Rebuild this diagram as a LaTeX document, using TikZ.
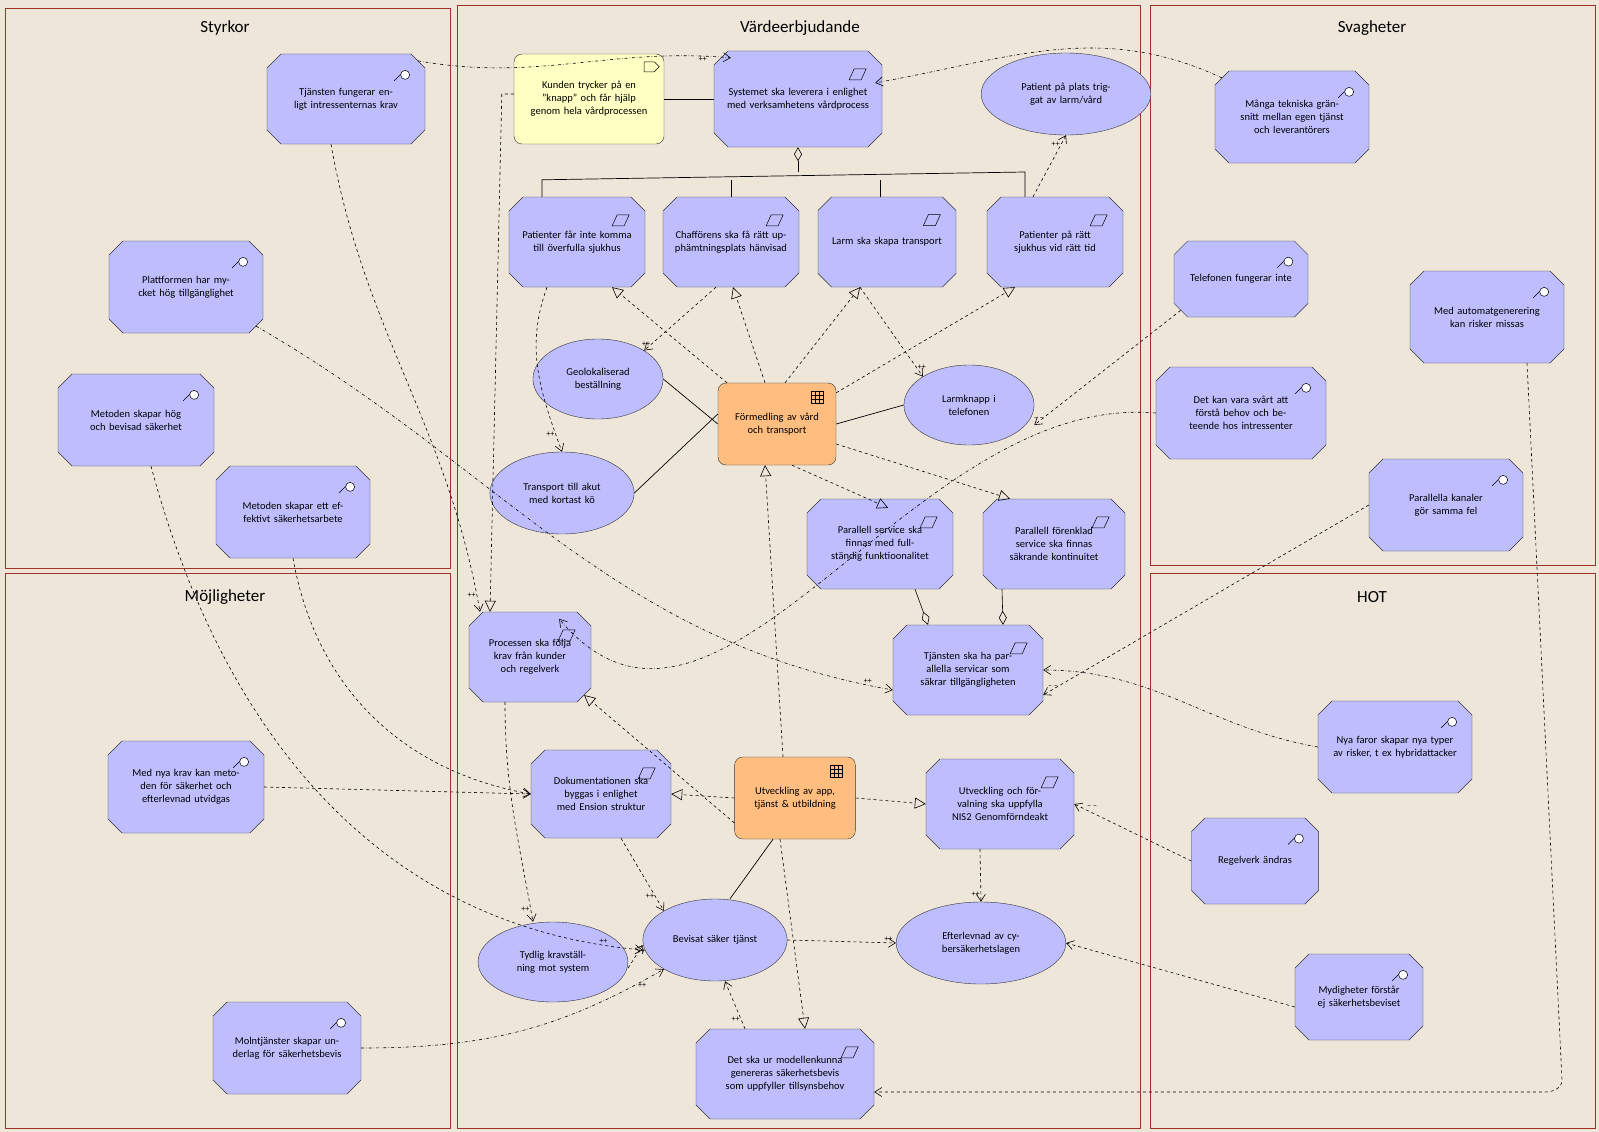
\documentclass[tikz,border=0pt]{standalone}
\usepackage{fontspec}
\setmainfont{Carlito}
\usetikzlibrary{shapes.misc,shapes.geometric,arrows.meta}
\definecolor{bg}{HTML}{EFE6DA}
\definecolor{frame}{HTML}{A0302A}
\definecolor{bb}{HTML}{BEBEFF}
\definecolor{ob}{HTML}{FFBE80}
\definecolor{yb}{HTML}{FFFFC4}
\tikzset{
 box/.style={chamfered rectangle,chamfered rectangle xsep=7pt,chamfered rectangle ysep=7pt,draw=black!80,fill=bb,align=center,inner sep=2pt,font=\fontsize{10.5}{13}\selectfont},
 ell/.style={ellipse,draw=black!80,fill=bb,align=center,inner sep=1pt,font=\fontsize{10.5}{13}\selectfont},
 orb/.style={rectangle,rounded corners=8pt,draw=black!80,fill=ob,align=center,font=\fontsize{10.5}{13}\selectfont},
 fr/.style={draw=frame,line width=0.9pt},
 ttl/.style={font=\fontsize{17}{20}\selectfont},
 dsh/.style={dashed,line width=0.6pt,-{Straight Barb[length=7pt,width=9pt]}},
 dd/.style={dash dot,line width=0.6pt,-{Straight Barb[length=7pt,width=9pt]}},
 rl/.style={dashed,line width=0.6pt,-{Triangle[open,length=11pt,width=11pt]}},
 ag/.style={line width=0.6pt,{Diamond[open,length=14pt,width=8pt]}-},
 sl/.style={line width=0.7pt},
 lb/.style={font=\fontsize{8}{9}\selectfont,inner sep=1pt}
}
\newcommand\aicon[1]{\draw[line width=0.5pt] ([xshift=-24pt,yshift=-20pt]#1.north east) -- ++(7,-7); \draw[line width=0.5pt,fill=white] ([xshift=-13pt,yshift=-14pt]#1.north east) circle (4.5pt);}
\newcommand\gicon[1]{\draw[line width=0.5pt] ([xshift=-26pt,yshift=-22pt]#1.north east) -- ++(12,0) -- ++(5,-11) -- ++(-12,0) -- cycle;}
\newcommand\oicon[1]{\draw[line width=0.5pt] ([xshift=-25pt,yshift=-8pt]#1.north east) rectangle ++(12,12) ([xshift=-21pt,yshift=-8pt]#1.north east) -- ++(0,12) ([xshift=-17pt,yshift=-8pt]#1.north east) -- ++(0,12) ([xshift=-25pt,yshift=-12pt]#1.north east) -- ++(12,0) ([xshift=-25pt,yshift=-16pt]#1.north east) -- ++(12,0);}
\begin{document}
\begin{tikzpicture}[x=1pt,y=-1pt]
\fill[bg] (0,0) rectangle (1599,1132);
\useasboundingbox (0,0) rectangle (1599,1132);
\draw[fr] (5,8) rectangle (450,568);
\draw[fr] (457,5) rectangle (1140,1128);
\draw[fr] (1150,5) rectangle (1595,565);
\draw[fr] (5,573) rectangle (450,1128);
\draw[fr] (1150,573) rectangle (1595,1128);
\node[ttl] (tS) at (225,28) {Styrkor};
\node[ttl] (tV) at (800,28) {Värdeerbjudande};
\node[ttl] (tW) at (1372,28) {Svagheter};
\node[ttl] (tM) at (225,597) {Möjligheter};
\node[ttl] (tH) at (1372,597) {HOT};

% Styrkor
\node[box,minimum width=148,minimum height=90,text width=140] (s1) at (346,99) {Tjänsten fungerar enligt intressenternas krav};
\node[box,minimum width=146,minimum height=92,text width=136] (s2) at (186,287) {Plattformen har mycket hög tillgänglighet};
\node[box,minimum width=148,minimum height=92,text width=138] (s3) at (136,420) {Metoden skapar hög och bevisad säkerhet};
\node[box,minimum width=146,minimum height=92,text width=136] (s4) at (293,512) {Metoden skapar ett effektivt säkerhetsarbete};
% Möjligheter
\node[box,minimum width=146,minimum height=92,text width=138] (m1) at (186,787) {Med nya krav kan metoden för säkerhet och efterlevnad utvidgas};
\node[box,minimum width=148,minimum height=92,text width=130] (m2) at (287,1048) {Molntjänster skapar underlag för säkerhetsbevis};
% Svagheter
\node[box,minimum width=146,minimum height=92,text width=136] (w1) at (1292,117) {Många tekniska gränsnitt mellan egen tjänst och leverantörers};
\node[box,minimum width=134,minimum height=76,text width=110] (w2) at (1241,279) {Telefonen fungerar inte};
\node[box,minimum width=146,minimum height=92,text width=136] (w3) at (1487,317) {Med automatgenerering kan risker missas};
\node[box,minimum width=160,minimum height=92,text width=152] (w4) at (1241,413) {Det kan vara svårt att förstå behov och beteende hos intressenter};
\node[box,minimum width=146,minimum height=92,text width=136] (w5) at (1446,505) {Parallella kanaler gör samma fel};
% HOT
\node[box,minimum width=146,minimum height=92,text width=136] (h1) at (1395,747) {Nya faror skapar nya typer av risker, t ex hybridattacker};
\node[box,minimum width=118,minimum height=86,text width=110] (h2) at (1255,861) {Regelverk ändras};
\node[box,minimum width=118,minimum height=86,text width=110] (h3) at (1359,997) {Mydigheter förstår ej säkerhetsbeviset};

% Värdeerbjudande
\node[draw=black!80,fill=yb,rounded corners=8pt,minimum width=150,minimum height=90,text width=142,align=center,font=\fontsize{10.5}{13}\selectfont] (nt) at (589,99) {Kunden trycker på en "knapp" och får hjälp genom hela vårdprocessen};
\draw[line width=0.5pt] ([xshift=-20pt,yshift=-8pt]nt.north east) -- ++(10,0) -- ++(5,5) -- ++(-5,5) -- ++(-10,0) -- cycle;
\node[box,minimum width=162,minimum height=96,text width=150] (g0) at (798,99) {Systemet ska leverera i enlighet med verksamhetens vårdprocess};
\node[ell,minimum width=134,minimum height=82,text width=118] (e0) at (1066,94) {Patient på plats triggat av larm/vård};
\node[box,minimum width=124,minimum height=90,text width=118] (g1) at (577,242) {Patienter får inte komma till överfulla sjukhus};
\node[box,minimum width=122,minimum height=90,text width=118] (g2) at (731,242) {Chafförens ska få rätt upphämtningsplats hänvisad};
\node[box,minimum width=138,minimum height=90,text width=118] (g3) at (887,242) {Larm ska skapa transport};
\node[box,minimum width=122,minimum height=90,text width=118] (g4) at (1055,242) {Patienter på rätt sjukhus vid rätt tid};
\node[ell,minimum width=128,minimum height=80,text width=90] (e1) at (598,379) {Geolokaliserad beställning};
\node[orb,minimum width=118,minimum height=82,text width=110] (o1) at (777,424) {Förmedling av vård och transport};
\node[ell,minimum width=126,minimum height=80,text width=90] (e2) at (969,405) {Larmknapp i telefonen};
\node[ell,minimum width=128,minimum height=82,text width=100] (e3) at (562,493) {Transport till akut med kortast kö};
\node[box,minimum width=132,minimum height=90,text width=128] (g5) at (880,544) {Parallell service ska finnas med fullständig funktioonalitet};
\node[box,minimum width=128,minimum height=90,text width=124] (g6) at (1054,544) {Parallell förenklad service ska finnas säkrande kontinuitet};
\node[box,minimum width=116,minimum height=90,text width=104] (g7) at (530,657) {Processen ska följa krav från kunder och regelverk};
\node[box,minimum width=136,minimum height=90,text width=132] (g8) at (968,670) {Tjänsten ska ha parallella servicar som säkrar tillgängligheten};
\node[box,minimum width=126,minimum height=88,text width=122] (g9) at (601,794) {Dokumentationen ska byggas i enlighet med Ension struktur};
\node[orb,minimum width=120,minimum height=82,text width=114] (o2) at (795,798) {Utveckling av app, tjänst \& utbildning};
\node[box,minimum width=138,minimum height=90,text width=130] (g10) at (1000,804) {Utveckling och förvalning ska uppfylla NIS2 Genomförndeakt};
\node[ell,minimum width=116,minimum height=82,text width=100] (e4) at (715,940) {Bevisat säker tjänst};
\node[ell,minimum width=126,minimum height=80,text width=104] (e5) at (553,962) {Tydlig kravställning mot system};
\node[ell,minimum width=126,minimum height=82,text width=118] (e6) at (981,943) {Efterlevnad av cybersäkerhetslagen};
\node[box,minimum width=168,minimum height=90,text width=160] (g11) at (785,1074) {Det ska ur modellenkunna genereras säkerhetsbevis som uppfyller tillsynsbehov};

\foreach \n in {s1,s2,s3,s4,m1,m2,w1,w2,w3,w4,w5,h1,h2,h3} {\aicon{\n}}
\foreach \n in {g0,g1,g2,g3,g4,g5,g6,g7,g8,g9,g10,g11} {\gicon{\n}}
\oicon{o1} \oicon{o2}

% aggregation
\draw[ag] (g0.south) -- (798,172);
\draw[sl] ([xshift=-35pt]g1.north) -- ++(0,-17) -- ([xshift=-30pt]g4.north |- 0,172) -- ([xshift=-30pt]g4.north);
\draw[sl] (g2.north) -- ++(0,-17);
\draw[sl] ([xshift=-7pt]g3.north) -- ++(0,-17);
\draw[sl] (nt.east) -- (g0.west);
\draw[ag] ([xshift=-40pt]g8.north) -- ([xshift=35pt]g5.south);
\draw[ag] ([xshift=35pt]g8.north) -- ([xshift=-52pt]g6.south);

% edges
\draw[dd] (s1.north east) to[out=-10,in=175] node[lb,pos=0.92,below]{++} ([xshift=10pt]g0.north west);
\draw[rl] ([yshift=5pt]nt.west) -- ++(-12,0) -- ([xshift=-40pt]g7.north);
\draw[dsh] (g4.north) ++(-22,0) -- node[lb,pos=0.85,left]{++} (e0.south);
\draw[dd] (w1.north west) to[out=155,in=10] ([yshift=-25pt]g0.north east);
\draw[dsh] ([xshift=-30pt]g1.south) to[out=-110,in=110] node[lb,pos=0.9,left]{++} (e3.north);
\draw[dsh] ([xshift=-15pt]g2.south) -- node[lb,pos=0.9,left]{++} (e1.north east);
\draw[dsh] ([xshift=-27pt]g3.south) -- node[lb,pos=0.9,right]{++} (e2.north west);
\draw[rl] ([xshift=-50pt]o1.north) -- ([xshift=35pt]g1.south);
\draw[rl] ([xshift=-12pt]o1.north) -- ([xshift=2pt]g2.south);
\draw[rl] ([xshift=8pt]o1.north) -- ([xshift=-27pt]g3.south);
\draw[rl] ([yshift=-10pt]o1.north east) -- ([xshift=-40pt]g4.south);
\draw[sl] (o1.west) -- (e1.east);
\draw[sl] (o1.east) -- (e2.west);
\draw[sl] ([yshift=10pt]o1.west) -- (e3.east);
\draw[rl] ([xshift=15pt]o1.south) -- ([xshift=-58pt,yshift=-2pt]g5.north east);
\draw[rl] ([yshift=-20pt]o1.east) -- ([xshift=-44pt,yshift=0pt]g6.north);
\draw[dd] (s2.south east) to[out=-30,in=170] node[lb,pos=0.97,above]{++} ([yshift=-20pt]g8.west);
\draw[dd] (w4.west) to[out=175,in=-50] ([xshift=-25pt]g7.north east);
\draw[dsh] (w5.west) -- node[lb,pos=0.97,above]{-- --} ([yshift=-25pt]g8.east);
\draw[dsh] (w2.south west) -- node[lb,pos=0.97,above]{-- --} ([yshift=-20pt]e2.east);
\draw[dsh] (w3.south) ++(40,0) -- (1562,1080) to[out=-90,in=0] (1545,1092) -- ([yshift=-18pt]g11.east);
\draw[dd] (h1.west) to[out=170,in=0] (g8.east);
\draw[dsh] (h2.west) -- node[lb,pos=0.9,above right]{-- --} (g10.east);
\draw[dsh] ([yshift=-10pt]h3.west) -- (e6.east);
\draw[dsh] ([xshift=-15pt]s1.south) to[out=-80,in=100] node[lb,pos=0.97,left]{++} ([xshift=-50pt]g7.north);
\draw[dsh] ([xshift=15pt]s3.south) to[out=-75,in=175] node[lb,pos=0.95,above]{++} ([yshift=-10pt]e4.west);
\draw[dsh] (s4.south) to[out=-80,in=170] (g9.west);
\draw[dsh] (m1.east) -- (g9.west);
\draw[dd] (m2.east) to[out=0,in=-150] node[lb,pos=0.93,below]{++} (e4.south west);
\draw[rl] ([yshift=-25pt]o2.west) -- (g7.south east);
\draw[rl] (o2.west) -- (g9.east);
\draw[rl] (o2.east) -- (g10.west);
\draw[rl] ([xshift=-12pt]o2.north) -- ([xshift=-12pt]o1.south);
\draw[rl] ([xshift=-15pt]o2.south) -- ([xshift=20pt]g11.north);
\draw[sl] ([xshift=-22pt]o2.south) -- ([xshift=15pt]e4.north);
\draw[dsh] ([xshift=-25pt]g7.south) to[out=-90,in=100] node[lb,pos=0.95,left]{++} ([xshift=-20pt]e5.north);
\draw[dsh] ([xshift=20pt]g9.south) -- node[lb,pos=0.8,left]{++} (e4.north west);
\draw[dsh] ([yshift=-6pt]e5.east) -- node[lb,pos=0.9,below]{++} ([yshift=-5pt]e4.west);
\draw[dsh] (e4.east) -- node[lb,pos=0.93,above]{++} (e6.west);
\draw[dsh] ([xshift=-20pt]g10.south) -- node[lb,pos=0.85,left]{++} (e6.north);
\draw[dsh] ([xshift=-40pt]g11.north) -- node[lb,pos=0.2,left]{++} ([xshift=10pt]e4.south);
\end{tikzpicture}
\end{document}
